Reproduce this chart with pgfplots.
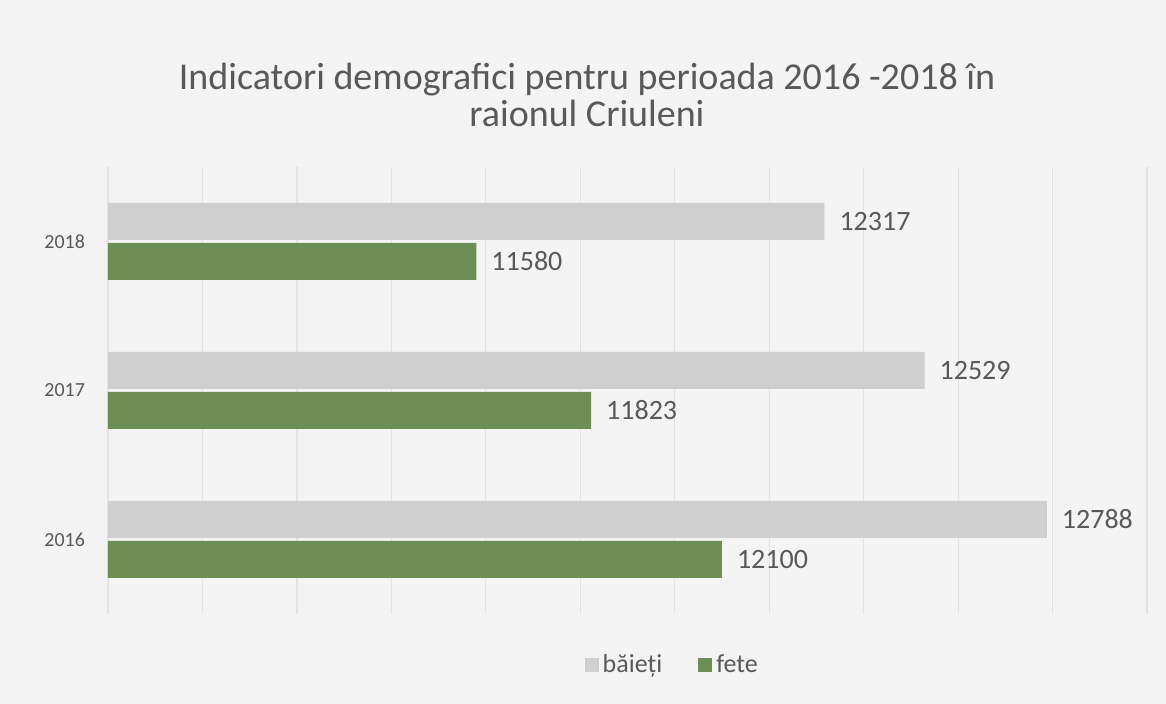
\documentclass[border=0pt]{standalone}
\usepackage{pgfplots}
\pgfplotsset{compat=1.18}
\usepackage{fontspec}
\setmainfont{Carlito}
\definecolor{bg}{HTML}{F4F4F4}
\definecolor{barg}{HTML}{CFCFCF}
\definecolor{barf}{HTML}{6D8F55}
\definecolor{txt}{HTML}{595959}
\definecolor{gridc}{HTML}{E3E3E3}
\begin{document}
\begin{tikzpicture}[x=1pt,y=1pt]
\path[fill=bg] (0,0) rectangle (583,352);
\node[font=\fontsize{19}{18.5}\selectfont, text=txt, align=center] at (293.5,304.5) {Indicatori demografici pentru perioada 2016 -2018 în\\raionul Criuleni};
\begin{axis}[
  at={(54pt,45pt)}, anchor=south west, scale only axis,
  width=519.5pt, height=223.5pt,
  xbar, bar width=18.5pt,
  xmin=10800, xmax=13000, ymin=-0.5, ymax=2.5,
  scaled x ticks=false,
  xtick={10800,11000,...,13000}, xticklabels={},
  xmajorgrids, grid style={gridc, line width=0.6pt},
  major tick length=0pt,
  ytick={0,1,2}, yticklabels={2016,2017,2018},
  yticklabel style={font=\fontsize{10}{11}\selectfont, text=txt, xshift=-8pt},
  axis line style={draw=none},
  nodes near coords,
  nodes near coords style={font=\fontsize{14}{16}\selectfont, text=txt, anchor=west, xshift=4pt},
  /pgf/number format/1000 sep={},
  /pgf/number format/assume math mode=true,
  legend columns=2,
  legend style={at={(0.544,-0.114)}, anchor=center, draw=none, fill=none,
    font=\fontsize{13}{15}\selectfont, text=txt,
    /tikz/every even column/.append style={column sep=16pt}},
  legend image code/.code={\fill[#1] (0pt,-3.5pt) rectangle (7pt,3.5pt);},
]
\addplot[fill=barg, draw=none, bar shift=10pt] coordinates {(12788,0) (12529,1) (12317,2)};
\addplot[fill=barf, draw=none, bar shift=-10pt] coordinates {(12100,0) (11823,1) (11580,2)};
\legend{băieți, fete}
\end{axis}
\end{tikzpicture}
\end{document}
